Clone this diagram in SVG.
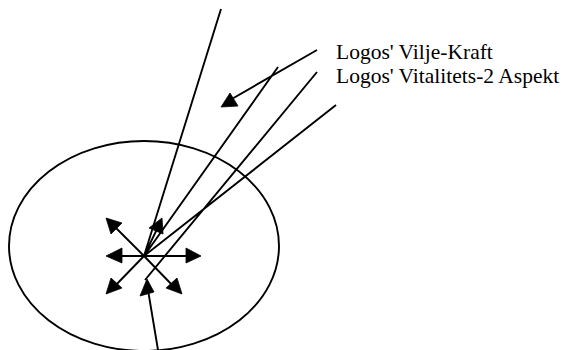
<svg xmlns="http://www.w3.org/2000/svg" width="562" height="350" viewBox="0 0 562 350">
<style>
.l{fill:none;stroke:#000;stroke-width:1.9}
.h{fill:#000;stroke:#000;stroke-width:.8}
text{font-family:"Liberation Serif","Times New Roman",serif;font-size:21.5px;fill:#000}
</style>
<rect width="562" height="350" fill="#fff"/>
<g id="sphere"><ellipse class="l" cx="144" cy="246" rx="135" ry="105"/></g>
<g id="connectors">
<path class="l" d="M221 9L144 256M278 67L144 256M317 72L145 280M336 105L144 256M317 50L230 100M158 350L148 290M144 256H112M144 256H195M144 256L112 224M144 256L112 289M144 256L176 289M144 256L159 225"/>
<polygon class="h" points="221,107 230,93 238,106"/>
<polygon class="h" points="162,218 149,228 163,234"/>
<polygon class="h" points="147,279 140,296 154,292"/>
<polygon class="h" points="106,256 122,248 122,263"/>
<polygon class="h" points="201,256 186,248 186,263"/>
<polygon class="h" points="106,218 111,234 122,223"/>
<polygon class="h" points="106,294 111,278 122,288"/>
<polygon class="h" points="182,294 166,288 177,278"/>
</g>
<g id="labels">
<text x="336" y="59">Logos' Vilje-Kraft</text>
<text x="336" y="82.5">Logos' Vitalitets-2 Aspekt</text>
</g>
</svg>
